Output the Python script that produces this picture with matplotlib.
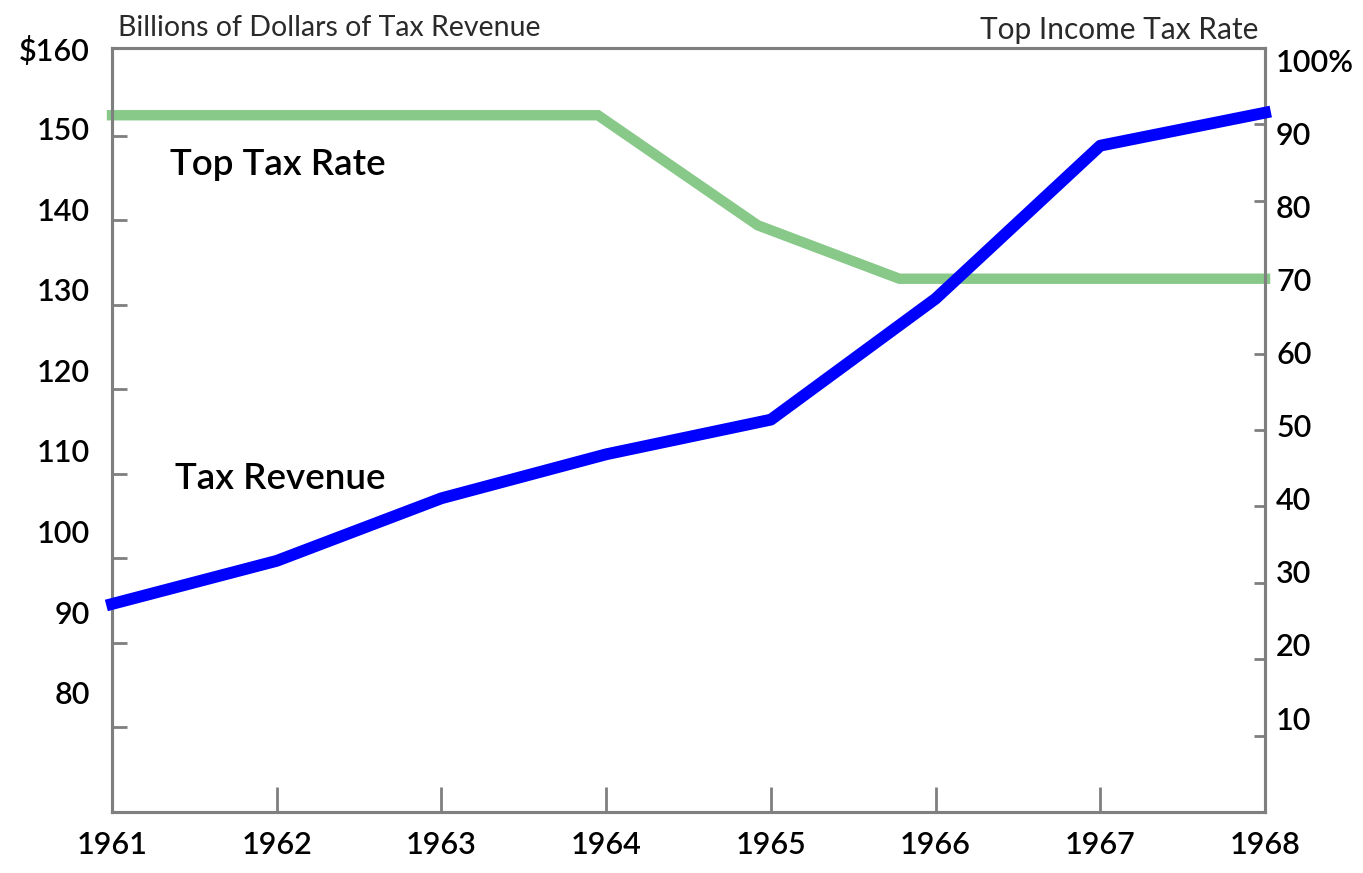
import matplotlib
matplotlib.use("Agg")
import matplotlib.pyplot as plt

years = [1961, 1962, 1963, 1964, 1965, 1966, 1967, 1968]
revenue = [94.6, 99.7, 107.1, 112.3, 116.4, 130.7, 148.8, 152.7]

rate_x = [1961, 1963.95, 1964.92, 1965.78, 1968]
rate = [91.2, 91.2, 76.8, 69.8, 69.8]

left_ticks = [80, 90, 100, 110, 120, 130, 140, 150]
left_labels = ["80", "90", "100", "110", "120", "130", "140", "150", "$160"]
left_label_vals = [80, 90, 100, 110, 120, 130, 140, 150, 160]
right_ticks = [10, 20, 30, 40, 50, 60, 70, 80, 90]
right_labels = ["10", "20", "30", "40", "50", "60", "70", "80", "90", "100%"]
right_label_vals = [10, 20, 30, 40, 50, 60, 70, 80, 90, 100]

plt.rcParams['font.family'] = ['Lato', 'DejaVu Sans']
gray = "#7f7f7f"
big = dict(fontsize=22, fontweight="semibold")

fig = plt.figure(figsize=(13.63, 8.73), dpi=100)
ax = fig.add_axes([0.0822, 0.0699, 0.8459, 0.8751])
ax2 = ax.twinx()

ax.set_xlim(1961, 1968)
ax.set_ylim(70, 160)
ax2.set_ylim(0, 100)

# green line first so the blue one sits on top
ax2.plot(rate_x, rate, color="#88c98a", lw=7.5, solid_capstyle="projecting",
         solid_joinstyle="miter", clip_on=False, zorder=2)
ax.set_zorder(ax2.get_zorder() + 1)
ax.patch.set_visible(False)
ax.plot(years, revenue, color="#0000ff", lw=8.5, solid_capstyle="projecting",
        clip_on=False, zorder=3)

for a in (ax, ax2):
    for s in a.spines.values():
        s.set_color(gray)
        s.set_linewidth(2.2)

# tick marks at the true values, labels drawn where the original puts them
ax.set_xticks(years)
ax.set_xticklabels([str(y) for y in years], **big)
ax.tick_params(axis="x", direction="in", length=18, width=2, color=gray, pad=14)

ax.set_yticks(left_ticks)
ax.set_yticklabels([])
ax.tick_params(axis="y", which="major", direction="in", length=11, width=2, color=gray)
ax.set_yticks([160.35 - (160 - v) * 0.953 for v in left_label_vals], minor=True)
ax.set_yticklabels(left_labels, minor=True, **big)
ax.tick_params(axis="y", which="minor", length=0, pad=16)

ax2.set_yticks(right_ticks)
ax2.set_yticklabels([])
ax2.tick_params(axis="y", which="major", direction="in", length=8, width=2, color=gray)
ax2.set_yticks([98.43 - (100 - v) * 0.957 for v in right_label_vals], minor=True)
ax2.set_yticklabels(right_labels, minor=True, **big)
ax2.tick_params(axis="y", which="minor", length=0, pad=8)

fig.text(118 / 1363, 1 - 28 / 873, "Billions of Dollars of Tax Revenue",
         fontsize=20.5, va="center", ha="left", color="#2a2a2a")
fig.text(1258 / 1363, 1 - 30 / 873, "Top Income Tax Rate",
         fontsize=21.5, va="center", ha="right", color="#2a2a2a")

ax.text(1961.35, 146.6, "Top Tax Rate", fontsize=26.5, fontweight="semibold",
        va="center", ha="left")
ax.text(1961.38, 109.4, "Tax Revenue", fontsize=26.5, fontweight="semibold",
        va="center", ha="left")

fig.savefig("out.png", dpi=100)
